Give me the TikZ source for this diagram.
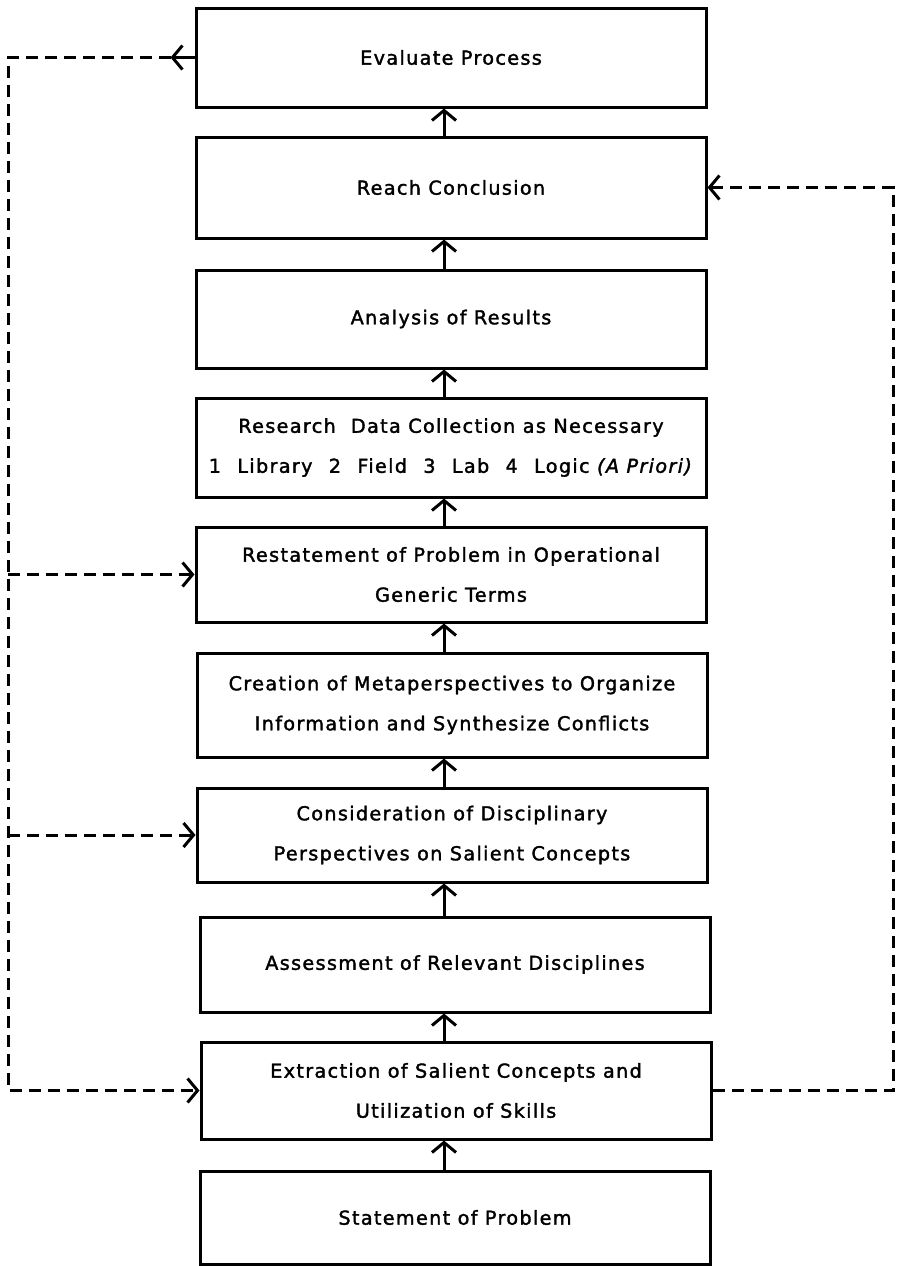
\documentclass[tikz,border=0pt]{standalone}
\usepackage{fontspec}
\setmainfont{DejaVu Sans}[ItalicFont={DejaVu Sans Oblique},BoldFont={DejaVu Sans Bold},LetterSpace=7,FakeBold=1.8]
\usetikzlibrary{arrows.meta,calc}
\begin{document}
\begin{tikzpicture}[x=1pt,y=-1pt,
  box/.style={draw, line width=3pt, minimum width=510pt, inner sep=0pt, align=center,
    font=\fontsize{19.2}{40}\selectfont},
  flow/.style={line width=3pt, -{Straight Barb[length=10pt,width=24pt]}},
  fb/.style={line width=3pt, dash pattern=on 12pt off 7pt, line join=miter,
    -{Straight Barb[length=10pt,width=24pt]}}
]
\useasboundingbox (0,0) rectangle (902,1266);

\node[box, minimum height=99pt]  (ev) at (451,57.5)   {Evaluate Process};
\node[box, minimum height=101pt] (rc) at (451,187.5)  {Reach Conclusion};
\node[box, minimum height=98pt]  (an) at (451,319)    {Analysis of Results};
\node[box, minimum height=99pt]  (rd) at (451,447.5)  {Research\hspace{0.4em} Data Collection as Necessary\\
  1\hspace{0.85em}Library\hspace{0.85em}2\hspace{0.85em}Field\hspace{0.85em}3\hspace{0.85em}Lab\hspace{0.85em}4\hspace{0.85em}Logic \textit{(A Priori)}};
\node[box, minimum height=95pt]  (rs) at (451,574.5)  {Restatement of Problem in Operational\\Generic Terms};
\node[box, minimum height=104pt] (cr) at (452,705)    {Creation of Metaperspectives to Organize\\Information and Synthesize Conflicts};
\node[box, minimum height=94pt]  (co) at (452,835)    {Consideration of Disciplinary\\Perspectives on Salient Concepts};
\node[box, minimum height=95pt]  (as) at (455,964.5)  {Assessment of Relevant Disciplines};
\node[box, minimum height=97pt]  (ex) at (456,1090.5) {Extraction of Salient Concepts and\\Utilization of Skills};
\node[box, minimum height=93pt]  (st) at (455,1217.5) {Statement of Problem};

\coordinate (ax) at (444,0);
\draw[flow] (st.north -| ax) -- (ex.south -| ax);
\draw[flow] (ex.north -| ax) -- (as.south -| ax);
\draw[flow] (as.north -| ax) -- (co.south -| ax);
\draw[flow] (co.north -| ax) -- (cr.south -| ax);
\draw[flow] (cr.north -| ax) -- (rs.south -| ax);
\draw[flow] (rs.north -| ax) -- (rd.south -| ax);
\draw[flow] (rd.north -| ax) -- (an.south -| ax);
\draw[flow] (an.north -| ax) -- (rc.south -| ax);
\draw[flow] (rc.north -| ax) -- (ev.south -| ax);

% left feedback loop
\coordinate (evt) at ($(ev.west)+(-24,0)$);
\coordinate (lt) at (8,57.5);
\draw[flow] (ev.west) -- (evt);
\draw[fb] (evt) -- (lt) -- (lt |- ex.west) -- (ex.west);
\draw[fb] (lt |- rs.west) -- (rs.west);
\draw[fb] (lt |- co.west) -- (co.west);

% right feedback loop
\coordinate (rt) at (893,0);
\draw[fb] (ex.east) -- (ex.east -| rt) -- (rc.east -| rt) -- (rc.east);
\end{tikzpicture}
\end{document}
